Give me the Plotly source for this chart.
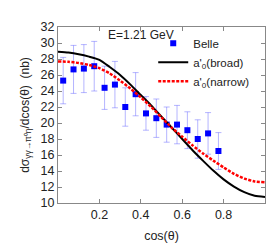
import plotly.graph_objects as go

# Belle data
belle_x = [0.025, 0.075, 0.125, 0.175, 0.225, 0.275, 0.325, 0.375,
           0.425, 0.475, 0.525, 0.575, 0.625, 0.675, 0.725, 0.775]
belle_y = [25.3, 26.7, 26.8, 27.1, 24.4, 24.8, 22.0, 23.6,
           21.2, 20.6, 19.8, 19.8, 19.1, 18.0, 18.7, 16.5]
belle_err = [2.9, 3.0, 3.0, 3.1, 2.7, 2.9, 2.4, 2.7,
             2.1, 2.4, 2.2, 2.4, 2.3, 2.4, 2.6, 2.3]

# model curves
curve_x = [0.0, 0.05, 0.1, 0.15, 0.2, 0.25, 0.3, 0.35, 0.4, 0.45, 0.5,
           0.55, 0.6, 0.65, 0.7, 0.75, 0.8, 0.85, 0.9, 0.95, 1.0]
broad_y = [28.9, 28.8, 28.6, 28.3, 27.9, 27.0, 26.0, 24.8, 23.5, 22.2, 20.8,
           19.4, 18.0, 16.6, 15.3, 14.05, 12.95, 12.05, 11.35, 10.9, 10.75]
narrow_y = [27.7, 27.65, 27.5, 27.25, 26.85, 26.2, 25.3, 24.3, 23.2, 22.0, 20.7,
            19.4, 18.3, 17.2, 16.2, 15.3, 14.45, 13.65, 13.05, 12.7, 12.6]

x_ticks = [0.2, 0.4, 0.6, 0.8]
y_ticks = list(range(10, 33, 2))

font = dict(family="Liberation Sans, Arial, sans-serif", size=12, color="#222")

fig = go.Figure()
fig.add_trace(go.Scatter(
    x=belle_x, y=belle_y, mode="markers", name="Belle",
    marker=dict(symbol="square", size=6, color="#0000ff"),
    error_y=dict(type="data", array=belle_err, visible=True,
                 color="rgba(90,90,255,0.45)", thickness=1, width=3),
))
fig.add_trace(go.Scatter(
    x=curve_x, y=broad_y, mode="lines", name="a'<sub>0</sub>(broad)",
    line=dict(color="black", width=2, shape="spline", smoothing=0.6),
))
fig.add_trace(go.Scatter(
    x=curve_x, y=narrow_y, mode="lines", name="a'<sub>0</sub>(narrow)",
    line=dict(color="#ff0000", width=2.5, dash="3px,1.5px", shape="spline", smoothing=0.6),
))

axis_common = dict(showgrid=False, zeroline=False, showline=True, linecolor="#888",
                   linewidth=1, mirror="allticks", ticks="inside", ticklen=4,
                   tickcolor="#888", tickfont=dict(size=12.5))

fig.update_layout(
    width=277, height=245,
    margin=dict(l=50, r=20, t=14, b=41),
    paper_bgcolor="white", plot_bgcolor="white",
    font=font,
    showlegend=True,
    legend=dict(x=0.46, y=0.99, xanchor="left", yanchor="top",
                bgcolor="rgba(0,0,0,0)", font=dict(size=11.5),
                tracegroupgap=0, itemwidth=30),
    xaxis=dict(range=[0, 1], tickvals=x_ticks, ticktext=[str(v) for v in x_ticks],
               title=dict(text="cos(θ)", font=dict(size=12.5), standoff=10), **axis_common),
    yaxis=dict(range=[10, 32], tickvals=y_ticks,
               title=dict(text="dσ<sub>γγ→π⁰η</sub>/dcos(θ)  (nb)", font=dict(size=12), standoff=8),
               **axis_common),
    annotations=[dict(text="E=1.21 GeV", x=0.40, y=0.953, xref="paper", yref="paper",
                      xanchor="center", yanchor="middle", showarrow=False,
                      font=dict(size=12))],
)

fig.write_html("out.html")
